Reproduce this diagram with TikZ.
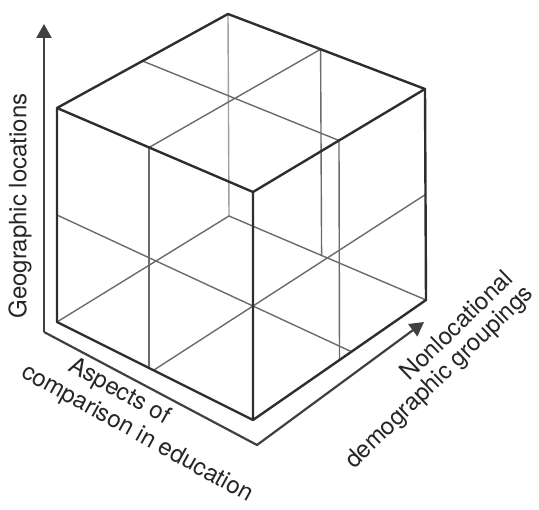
\documentclass[tikz,border=0pt]{standalone}
\usepackage{fontspec}
\setmainfont{TeX Gyre Heros}
\usetikzlibrary{calc,arrows.meta}
\tikzset{
	CubeEdge/.style={line width=2.4pt, draw=black!82, line join=round},
	CubeGrid/.style={line width=1.4pt, draw=black!58},
	CubeBack/.style={line width=1.4pt, draw=black!38},
	AxisLine/.style={line width=2.2pt, draw=black!75, line join=miter},
	AxisTip/.style={-{Triangle[length=14pt,width=15pt]}},
	AxisLabel/.style={font=\fontsize{24}{28}\selectfont, text=black!85, inner sep=0pt}
}

\begin{document}
\begin{tikzpicture}[x=1pt, y=-1pt]
		\useasboundingbox (0,0) rectangle (539,510);

		% Cube corners (top face, then bottom face)
		\coordinate (T) at (228,14);
		\coordinate (L) at (57,108);
		\coordinate (F) at (253,192);
		\coordinate (R) at (425,89);
		\coordinate (Tb) at (229,216);
		\coordinate (Lb) at (57,322);
		\coordinate (Fb) at (253,420);
		\coordinate (Rb) at (426,300);

		% Edge midpoints
		\def\m{0.47} % far half looks shorter
		\coordinate (mTL) at ($(T)!0.5!(L)$);
		\coordinate (mFR) at ($(R)!0.5!(F)$);
		\coordinate (mLF) at ($(L)!\m!(F)$);
		\coordinate (mTR) at ($(T)!\m!(R)$);
		\coordinate (mL) at ($(L)!0.5!(Lb)$);
		\coordinate (mF) at ($(F)!0.5!(Fb)$);
		\coordinate (mR) at ($(R)!0.5!(Rb)$);
		\coordinate (mLFb) at ($(Lb)!\m!(Fb)$);
		\coordinate (mFRb) at ($(Rb)!0.5!(Fb)$);
		\coordinate (mTRb) at ($(Tb)!\m!(Rb)$);

		% Hidden edges
		\draw[CubeBack] (Tb) -- (T);
		\draw[CubeGrid] (Lb) -- (Tb) -- (Rb);

		% Dividing lines
		\draw[CubeGrid] (mTL) -- (mFR) (mLF) -- (mTR);
		\foreach \a/\b in {mLF/mLFb, mFR/mFRb, mTR/mTRb}
			\draw[CubeGrid] (\a) -- (\b);
		\draw[CubeGrid] (mL) -- (intersection of mL--mF and Fb--Rb);
		\draw[CubeGrid] (intersection of mR--mF and Lb--Fb) -- (mR);

		% Visible edges
		\draw[CubeEdge] (L) -- (T) -- (R) -- (F) -- cycle;
		\draw[CubeEdge] (L) -- (Lb) -- (Fb) -- (Rb) -- (R) (F) -- (Fb);

		% Axes
		\coordinate (O) at (44,332);
		\coordinate (Ob) at (257,445);
		\coordinate (Zend) at (44,24);
		\coordinate (Yend) at (424,322);
		\draw[AxisLine, AxisTip] (O) -- (Zend);
		\draw[AxisLine, AxisTip] (O) -- (Ob) -- (Yend);

		% Labels
		\node[AxisLabel, rotate=90] (geo) at (20,206) {Geographic locations};
		\node[AxisLabel, rotate=-29] (asp) at (119,392) {Aspects of};
		\node[AxisLabel, rotate=-29] (cmp) at (137,434) {comparison in education};
		\node[AxisLabel, rotate=44] (nonloc) at (456,325) {Nonlocational};
		\node[AxisLabel, rotate=44] (demo) at (440,378) {demographic groupings};
	\end{tikzpicture}
\end{document}
